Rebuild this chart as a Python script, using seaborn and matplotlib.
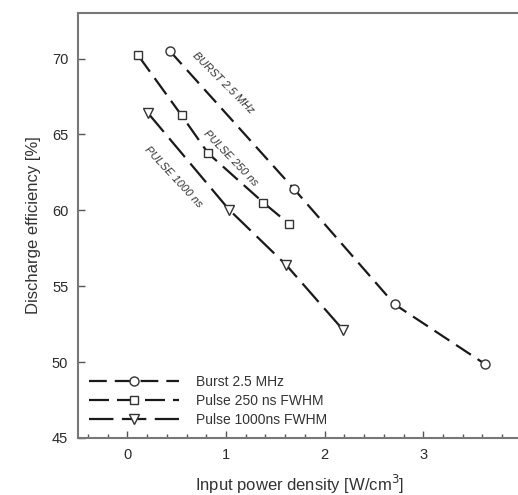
import matplotlib
matplotlib.use("Agg")
import matplotlib.pyplot as plt
import seaborn as sns
import pandas as pd

# ---- data ----
burst_x = [0.43, 1.69, 2.71, 3.63]
burst_y = [70.5, 61.4, 53.8, 49.85]
p250_x = [0.11, 0.55, 0.82, 1.38, 1.64]
p250_y = [70.2, 66.25, 63.75, 60.5, 59.1]
p1000_x = [0.21, 1.03, 1.61, 2.19]
p1000_y = [66.4, 60.05, 56.4, 52.1]
series_labels = ["Burst 2.5 MHz", "Pulse 250 ns FWHM", "Pulse 1000ns FWHM"]
annot_texts = ["BURST 2.5 MHz", "PULSE 250 ns", "PULSE 1000 ns"]
x_ticks = [0, 1, 2, 3, 4]
y_ticks = [45, 50, 55, 60, 65, 70]

sns.set_theme(style="ticks")
plt.rcParams["font.family"] = ["Liberation Sans", "DejaVu Sans"]

fig = plt.figure(figsize=(5.18, 4.95), dpi=100)
ax = fig.add_axes([0.1506, 0.1152, 0.857, 0.8586])

ink = "#1a1a1a"
specs = [
    (burst_x, burst_y, "o", 6.5, (0, (8.0, 3.6))),
    (p250_x, p250_y, "s", 5.8, (0, (9.0, 3.6))),
    (p1000_x, p1000_y, "v", 6.5, (0, (11.0, 3.8))),
]
for (xs, ys, mk, ms, ls), lab in zip(specs, series_labels):
    df = pd.DataFrame({"x": xs, "y": ys})
    sns.lineplot(data=df, x="x", y="y", ax=ax, color=ink, linewidth=1.6,
                 linestyle=ls, marker=mk, markersize=ms,
                 markerfacecolor="white", markeredgecolor="#333333",
                 markeredgewidth=1.0, label=lab, sort=False)

# rotated annotations
ann_pos = [(0.97, 68.4, -45), (1.05, 63.45, -46), (0.47, 62.2, -47)]
for (tx, ty, rot), t in zip(ann_pos, annot_texts):
    ax.text(tx, ty, t, rotation=rot, rotation_mode="anchor", ha="center",
            va="center", fontsize=8, style="italic", color="#333333")

ax.set_xlim(-0.5, 4.0)
ax.set_ylim(45, 73)
ax.set_xticks(x_ticks)
ax.set_yticks(y_ticks)
ax.set_xticks([i * 0.2 - 0.4 for i in range(23)], minor=True)
ax.tick_params(axis="both", which="major", direction="in", length=5,
               width=1, colors="#555555", labelcolor="#2a2a2a", labelsize=10.5,
               pad=7)
ax.tick_params(axis="x", which="minor", direction="in", length=3,
               width=1, colors="#555555")
ax.tick_params(axis="y", which="minor", left=False)
for s in ax.spines.values():
    s.set_color("#777777")
    s.set_linewidth(1.5)

ax.set_xlabel("Input power density [W/cm$^3$]", fontsize=12, color="#333333",
              labelpad=8)
ax.set_ylabel("Discharge efficiency [%]", fontsize=12, color="#333333",
              labelpad=8)

leg = ax.legend(loc="lower left", frameon=False, fontsize=10,
                handlelength=6.5, handletextpad=1.2, labelspacing=0.35,
                borderaxespad=0.4, bbox_to_anchor=(0.0, 0.0))
for t in leg.get_texts():
    t.set_color("#333333")

fig.savefig("out.png", dpi=100)
